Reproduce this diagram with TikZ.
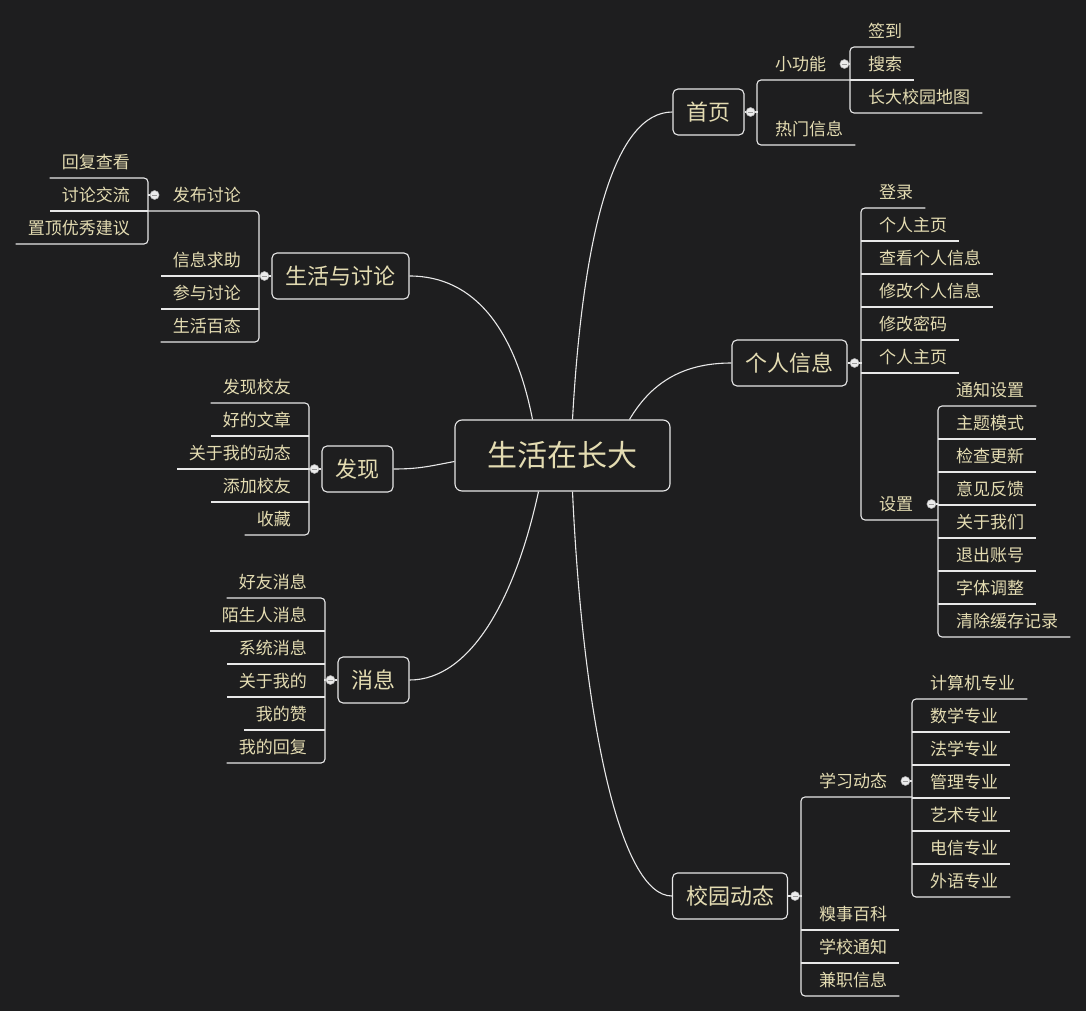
\documentclass[tikz,border=0pt]{standalone}
\usepackage{fontspec}
\newfontfamily\cjk{Noto Sans CJK SC}
\definecolor{bg}{RGB}{30,30,31}
\definecolor{tx}{RGB}{228,220,178}
\definecolor{lc}{RGB}{232,232,232}
\tikzset{
 ln/.style={draw=lc, line width=1.1pt},
 leaf/.style={font=\cjk\fontsize{17pt}{17pt}\selectfont, text=tx, inner sep=0pt},
 topic/.style={draw=lc, line width=1.1pt, rounded corners=5pt, fill=bg, text=tx,
   font=\cjk\fontsize{22pt}{22pt}\selectfont, inner xsep=13.5pt, inner ysep=0pt, minimum height=46pt},
 rootbox/.style={topic, font=\cjk\fontsize{30pt}{30pt}\selectfont, inner xsep=32.5pt, minimum height=71pt, rounded corners=7pt},
 knob/.style={circle, fill=white!92!black, draw=white!70!black, line width=0.5pt, inner sep=0pt, minimum size=9pt},
}
\newcommand\mknob[2]{\node[knob] (#1) at (#2) {};
  \draw[draw=gray!80!white, line width=.8pt] ([xshift=-2.5pt]#1.center) -- ([xshift=2.5pt]#1.center);}
\newcommand\ulR[2]{\draw[ln] ([xshift=-18pt,yshift=-16pt]#1.west) -- ([xshift=#2pt,yshift=-16pt]#1.east);}
\newcommand\brR[4]{\draw[ln, rounded corners=4pt] ([xshift=#2pt,yshift=-16pt]#1.east) -- ([xshift=-18pt,yshift=-16pt]#1.west) -- ([xshift=-18pt,yshift=-16pt]#3.west) -- ([xshift=#4pt,yshift=-16pt]#3.east);}
\newcommand\ulL[2]{\draw[ln] ([xshift=18pt,yshift=-16pt]#1.east) -- ([xshift=-#2pt,yshift=-16pt]#1.west);}
\newcommand\brL[4]{\draw[ln, rounded corners=4pt] ([xshift=-#2pt,yshift=-16pt]#1.west) -- ([xshift=18pt,yshift=-16pt]#1.east) -- ([xshift=18pt,yshift=-16pt]#3.east) -- ([xshift=-#4pt,yshift=-16pt]#3.west);}
\begin{document}
\begin{tikzpicture}[x=1pt,y=-1pt]
\fill[bg] (0,0) rectangle (1086,1011);
\useasboundingbox (0,0) rectangle (1086,1011);
% main topics
\node[rootbox] (root) at (562.5,455.5) {生活在长大};
\node[topic] (sy) at (708.5,112) {首页};
\node[topic] (gr) at (789.5,363) {个人信息};
\node[topic] (xy) at (730,896) {校园动态};
\node[topic] (sh) at (340.5,276) {生活与讨论};
\node[topic] (fx) at (357.5,469) {发现};
\node[topic] (xx) at (373.5,680) {消息};
% curves
\draw[ln] ([xshift=10pt]root.north) .. controls (583,230) and (615,112) .. (sy.west);
\draw[ln] ([xshift=67pt]root.north) .. controls (650,385) and (680,363) .. (gr.west);
\draw[ln] ([xshift=10pt]root.south) .. controls (583,720) and (620,896) .. (xy.west);
\draw[ln] ([xshift=-30pt]root.north) .. controls (515,330) and (475,276) .. (sh.east);
\draw[ln] ([yshift=-6pt]root.west) .. controls (430,466) and (420,469) .. (fx.east);
\draw[ln] ([xshift=-24pt]root.south) .. controls (515,600) and (470,680) .. (xx.east);
% ---- 首页
\node[leaf, anchor=west] (xgn) at (775,64) {小功能};
\node[leaf, anchor=west] (rmxx) at (775,129) {热门信息};
\brR{xgn}{24}{rmxx}{12}
\draw[ln] (sy.east) -- ++(13,0);
\mknob{k1}{[xshift=6pt]sy.east}
\node[leaf, anchor=west] (qd) at (868,31) {签到};
\node[leaf, anchor=west] (ss) at (868,64) {搜索};
\node[leaf, anchor=west] (dt) at (868,97) {长大校园地图};
\brR{qd}{12}{dt}{12}
\ulR{ss}{12}
\draw[ln] ([xshift=18pt]xgn.east) -- ++(6,0);
\mknob{k2}{[xshift=18pt]xgn.east}
% ---- 个人信息
\node[leaf, anchor=west] (dl) at (879,192) {登录};
\node[leaf, anchor=west] (zya) at (879,225) {个人主页};
\node[leaf, anchor=west] (ckxx) at (879,258) {查看个人信息};
\node[leaf, anchor=west] (xgxx) at (879,291) {修改个人信息};
\node[leaf, anchor=west] (xgmm) at (879,324) {修改密码};
\node[leaf, anchor=west] (zyb) at (879,357) {个人主页};
\node[leaf, anchor=west] (sz) at (879,504) {设置};
\brR{dl}{12}{sz}{25}
\ulR{zya}{12}\ulR{ckxx}{12}\ulR{xgxx}{12}\ulR{xgmm}{12}\ulR{zyb}{12}
\draw[ln] (gr.east) -- ++(14,0);
\mknob{k3}{[xshift=7pt]gr.east}
\node[leaf, anchor=west] (tz) at (956,390) {通知设置};
\node[leaf, anchor=west] (ztms) at (956,423) {主题模式};
\node[leaf, anchor=west] (jcgx) at (956,456) {检查更新};
\node[leaf, anchor=west] (yjfk) at (956,489) {意见反馈};
\node[leaf, anchor=west] (gywm) at (956,522) {关于我们};
\node[leaf, anchor=west] (tczh) at (956,555) {退出账号};
\node[leaf, anchor=west] (ztzt) at (956,588) {字体调整};
\node[leaf, anchor=west] (qchc) at (956,621) {清除缓存记录};
\brR{tz}{12}{qchc}{12}
\ulR{ztms}{12}\ulR{jcgx}{12}\ulR{yjfk}{12}\ulR{gywm}{12}\ulR{tczh}{12}\ulR{ztzt}{12}
\draw[ln] ([xshift=18pt]sz.east) -- ++(7,0);
\mknob{k4}{[xshift=18pt]sz.east}
% ---- 校园动态
\node[leaf, anchor=west] (xxdt) at (819,781) {学习动态};
\node[leaf, anchor=west] (qsbk) at (819,914) {糗事百科};
\node[leaf, anchor=west] (xxtz) at (819,947) {学校通知};
\node[leaf, anchor=west] (jzxx) at (819,980) {兼职信息};
\brR{xxdt}{25}{jzxx}{12}
\ulR{qsbk}{12}\ulR{xxtz}{12}
\draw[ln] (xy.east) -- ++(14,0);
\mknob{k5}{[xshift=7pt]xy.east}
\node[leaf, anchor=west] (jsj) at (930,683) {计算机专业};
\node[leaf, anchor=west] (sx) at (930,716) {数学专业};
\node[leaf, anchor=west] (fxz) at (930,749) {法学专业};
\node[leaf, anchor=west] (gl) at (930,782) {管理专业};
\node[leaf, anchor=west] (ys) at (930,815) {艺术专业};
\node[leaf, anchor=west] (dx) at (930,848) {电信专业};
\node[leaf, anchor=west] (wy) at (930,881) {外语专业};
\brR{jsj}{12}{wy}{12}
\ulR{sx}{12}\ulR{fxz}{12}\ulR{gl}{12}\ulR{ys}{12}\ulR{dx}{12}
\draw[ln] ([xshift=18pt]xxdt.east) -- ++(7,0);
\mknob{k6}{[xshift=18pt]xxdt.east}
% ---- 生活与讨论
\node[leaf, anchor=east] (fbtl) at (241,195) {发布讨论};
\node[leaf, anchor=east] (xxqz) at (241,260) {信息求助};
\node[leaf, anchor=east] (cytl) at (241,293) {参与讨论};
\node[leaf, anchor=east] (shbt) at (241,326) {生活百态};
\brL{fbtl}{25}{shbt}{12}
\ulL{xxqz}{12}\ulL{cytl}{12}
\draw[ln] (sh.west) -- ++(-13,0);
\mknob{k7}{[xshift=-7pt]sh.west}
\node[leaf, anchor=east] (hfck) at (130,162) {回复查看};
\node[leaf, anchor=east] (tljl) at (130,195) {讨论交流};
\node[leaf, anchor=east] (zdyx) at (130,228) {置顶优秀建议};
\brL{hfck}{12}{zdyx}{12}
\ulL{tljl}{12}
\draw[ln] ([xshift=-18pt]fbtl.west) -- ++(-7,0);
\mknob{k8}{[xshift=-18pt]fbtl.west}
% ---- 发现
\node[leaf, anchor=east] (fxxy) at (291,387) {发现校友};
\node[leaf, anchor=east] (hdwz) at (291,420) {好的文章};
\node[leaf, anchor=east] (gydt) at (291,453) {关于我的动态};
\node[leaf, anchor=east] (tjxy) at (291,486) {添加校友};
\node[leaf, anchor=east] (sc) at (291,519) {收藏};
\brL{fxxy}{12}{sc}{12}
\ulL{hdwz}{12}\ulL{gydt}{12}\ulL{tjxy}{12}
\draw[ln] (fx.west) -- ++(-13,0);
\mknob{k9}{[xshift=-7pt]fx.west}
% ---- 消息
\node[leaf, anchor=east] (hyxx) at (307,582) {好友消息};
\node[leaf, anchor=east] (msr) at (307,615) {陌生人消息};
\node[leaf, anchor=east] (xtxx) at (307,648) {系统消息};
\node[leaf, anchor=east] (gywd) at (307,681) {关于我的};
\node[leaf, anchor=east] (wdz) at (307,714) {我的赞};
\node[leaf, anchor=east] (wdhf) at (307,747) {我的回复};
\brL{hyxx}{12}{wdhf}{12}
\ulL{msr}{12}\ulL{xtxx}{12}\ulL{gywd}{12}\ulL{wdz}{12}
\draw[ln] (xx.west) -- ++(-13,0);
\mknob{k10}{[xshift=-7pt]xx.west}
\end{tikzpicture}
\end{document}
